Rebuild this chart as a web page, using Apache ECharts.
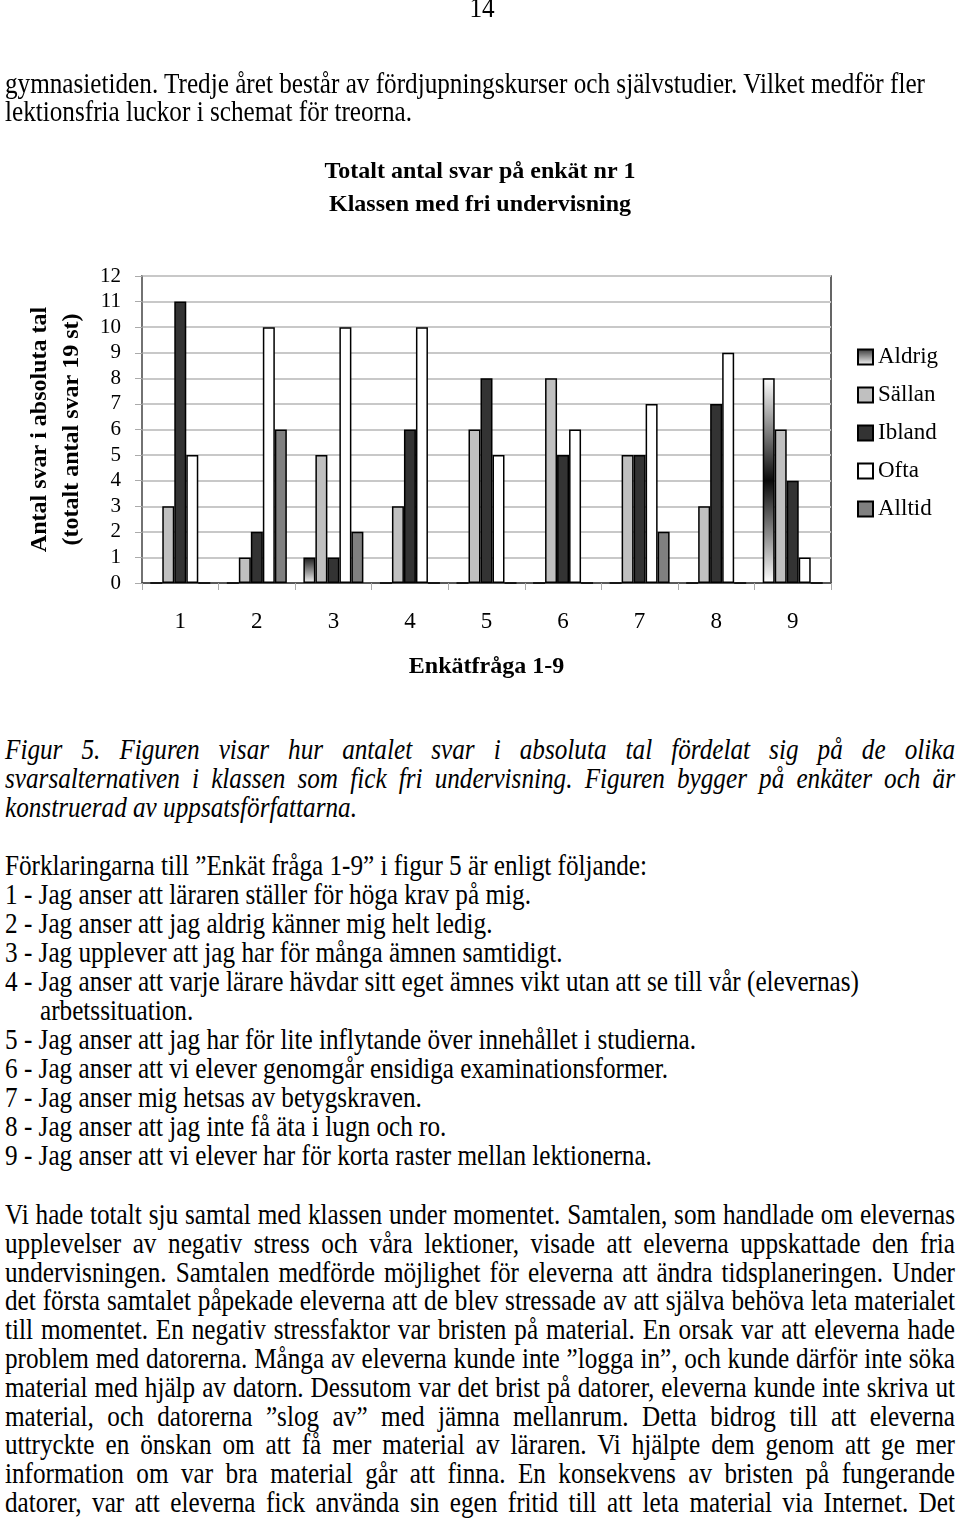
<!DOCTYPE html>
<html>
<head>
<meta charset="utf-8">
<script src="https://cdn.jsdelivr.net/npm/echarts@6/dist/echarts.min.js"></script>
<style>
  html, body { margin: 0; padding: 0; background: #fff; }
  body { width: 960px; height: 1521px; position: relative; overflow: hidden; font-family: 'Liberation Serif', 'Times New Roman', serif; color: #000; }
  #chart { position: absolute; left: 0; top: 0; width: 960px; height: 720px; }
  .ln { position: absolute; left: 5px; width: 950px; font-size: 25.2px; line-height: 29px; height: 29px; white-space: nowrap; z-index: 2; transform: scaleY(1.16); transform-origin: 50% 60%; }
  .j { text-align: justify; text-align-last: justify; white-space: normal; }
  .it { font-style: italic; }
</style>
</head>
<body>
<div id="chart"></div>
<div id="text"></div>
<script>
// ---------- chart data ----------
const categories = ['1', '2', '3', '4', '5', '6', '7', '8', '9'];
const seriesNames = ['Aldrig', 'Sällan', 'Ibland', 'Ofta', 'Alltid'];
const aldrig = [0, 0, 1, 0, 0, 0, 0, 0, 8];
const sallan = [3, 1, 5, 3, 6, 8, 5, 3, 6];
const ibland = [11, 2, 1, 6, 8, 5, 5, 7, 4];
const ofta   = [5, 10, 10, 10, 5, 6, 7, 9, 1];
const alltid = [0, 6, 2, 0, 0, 0, 2, 0, 0];
const chartTitle = 'Totalt antal svar på enkät nr 1\nKlassen med fri undervisning';
const yAxisTitle = 'Antal svar i absoluta tal\n(totalt antal svar 19 st)';
const xAxisTitle = 'Enkätfråga 1-9';

// ---------- page text ----------
const pageNumber = '14';
const topLines = [
  'gymnasietiden. Tredje året består av fördjupningskurser och självstudier. Vilket medför fler',
  'lektionsfria luckor i schemat för treorna.'
];
const captionLines = [
  'Figur 5. Figuren visar hur antalet svar i absoluta tal fördelat sig på de olika',
  'svarsalternativen i klassen som fick fri undervisning. Figuren bygger på enkäter och är',
  'konstruerad av uppsatsförfattarna.'
];
const listLines = [
  'Förklaringarna till ”Enkät fråga 1-9” i figur 5 är enligt följande:',
  '1 - Jag anser att läraren ställer för höga krav på mig.',
  '2 - Jag anser att jag aldrig känner mig helt ledig.',
  '3 - Jag upplever att jag har för många ämnen samtidigt.',
  '4 - Jag anser att varje lärare hävdar sitt eget ämnes vikt utan att se till vår (elevernas)',
  'arbetssituation.',
  '5 - Jag anser att jag har för lite inflytande över innehållet i studierna.',
  '6 - Jag anser att vi elever genomgår ensidiga examinationsformer.',
  '7 - Jag anser mig hetsas av betygskraven.',
  '8 - Jag anser att jag inte få äta i lugn och ro.',
  '9 - Jag anser att vi elever har för korta raster mellan lektionerna.'
];
const paraLines = [
  'Vi hade totalt sju samtal med klassen under momentet. Samtalen, som handlade om elevernas',
  'upplevelser av negativ stress och våra lektioner, visade att eleverna uppskattade den fria',
  'undervisningen. Samtalen medförde möjlighet för eleverna att ändra tidsplaneringen. Under',
  'det första samtalet påpekade eleverna att de blev stressade av att själva behöva leta materialet',
  'till momentet. En negativ stressfaktor var bristen på material. En orsak var att eleverna hade',
  'problem med datorerna. Många av eleverna kunde inte ”logga in”, och kunde därför inte söka',
  'material med hjälp av datorn. Dessutom var det brist på datorer, eleverna kunde inte skriva ut',
  'material, och datorerna ”slog av” med jämna mellanrum. Detta bidrog till att eleverna',
  'uttryckte en önskan om att få mer material av läraren. Vi hjälpte dem genom att ge mer',
  'information om var bra material går att finna. En konsekvens av bristen på fungerande',
  'datorer, var att eleverna fick använda sin egen fritid till att leta material via Internet. Det'
];

// ---------- render text ----------
const textBox = document.getElementById('text');
function addLine(txt, centerY, cls, extraStyle) {
  const d = document.createElement('div');
  d.className = 'ln ' + (cls || '');
  d.style.top = (centerY - 15) + 'px';
  if (extraStyle) Object.assign(d.style, extraStyle);
  d.textContent = txt;
  textBox.appendChild(d);
}
addLine(pageNumber, 8, '', { textAlign: 'center', left: '0px', width: '964px' });
addLine(topLines[0], 84, '');
addLine(topLines[1], 112, '');
captionLines.forEach((t, i) => addLine(t, 750 + i * 29, (i < 2 ? 'j ' : '') + 'it'));
listLines.forEach((t, i) => {
  if (i === 5) addLine(t, 866 + i * 29, '', { left: '40px' });
  else addLine(t, 866 + i * 29, '');
});
paraLines.forEach((t, i) => addLine(t, 1215 + i * 28.8, 'j'));

// ---------- chart ----------
const serif = 'Liberation Serif';
const aldrigGradient = new echarts.graphic.LinearGradient(0, 0, 0, 1, [
  { offset: 0, color: '#ffffff' },
  { offset: 0.5, color: '#0a0a0a' },
  { offset: 1, color: '#ffffff' }
]);
const smallGradient = new echarts.graphic.LinearGradient(0, 0, 0, 1, [
  { offset: 0, color: '#1a1a1a' },
  { offset: 1, color: '#f4f4f4' }
]);
const fills = [aldrigGradient, '#c0c0c0', '#333333', '#ffffff', '#808080'];
const values = [aldrig, sallan, ibland, ofta, alltid];

const series = seriesNames.map((name, si) => ({
  name: name,
  type: 'bar',
  barWidth: 12,
  barGap: '0%',
  itemStyle: { color: fills[si], borderColor: '#000', borderWidth: 1.5 },
  data: values[si].map(v => (si === 0 && v === 1) ? { value: v, itemStyle: { color: smallGradient } } : v),
  emphasis: { disabled: true }
}));

const chart = echarts.init(document.getElementById('chart'), null, { renderer: 'canvas' });
chart.setOption({
  animation: false,
  title: {
    text: chartTitle,
    left: 475,
    top: 150,
    textAlign: 'center',
    textStyle: { fontFamily: serif, fontWeight: 'bold', fontSize: 24, lineHeight: 33, color: '#000' }
  },
  legend: {
    orient: 'vertical',
    left: 857,
    top: 345,
    padding: 0,
    itemWidth: 15,
    itemHeight: 15,
    itemGap: 14,
    icon: 'rect',
    textStyle: { fontFamily: serif, fontSize: 23, lineHeight: 24, color: '#000' },
    data: [
      { name: 'Aldrig', itemStyle: { color: new echarts.graphic.LinearGradient(0, 0, 0, 1, [
        { offset: 0, color: '#333' }, { offset: 1, color: '#fff' }]) } },
      'Sällan', 'Ibland', 'Ofta', 'Alltid'
    ]
  },
  grid: {
    left: 142, top: 276, width: 689, height: 307,
    show: true, borderColor: '#333', borderWidth: 1.5, backgroundColor: 'transparent'
  },
  xAxis: {
    type: 'category',
    data: categories,
    boundaryGap: true,
    axisLine: { lineStyle: { color: '#333', width: 1.5 } },
    axisTick: { show: true, length: 7, lineStyle: { color: '#aaa' } },
    axisLabel: { fontFamily: serif, fontSize: 23, color: '#000', margin: 27 },
    name: xAxisTitle,
    nameLocation: 'middle',
    nameGap: 72,
    nameTextStyle: { fontFamily: serif, fontWeight: 'bold', fontSize: 24, color: '#000' }
  },
  yAxis: {
    type: 'value',
    min: 0, max: 12, interval: 1,
    axisLine: { show: true, lineStyle: { color: '#777', width: 1.5 } },
    axisTick: { show: true, length: 7, lineStyle: { color: '#aaa' } },
    axisLabel: { fontFamily: serif, fontSize: 21, color: '#000', margin: 21 },
    splitLine: { lineStyle: { color: '#c8c8c8', width: 2 } },
    name: yAxisTitle,
    nameLocation: 'middle',
    nameRotate: 90,
    nameGap: 54,
    nameTextStyle: { fontFamily: serif, fontWeight: 'bold', fontSize: 24, lineHeight: 32, color: '#000', align: 'center' }
  },
  series: series
});
</script>
</body>
</html>
